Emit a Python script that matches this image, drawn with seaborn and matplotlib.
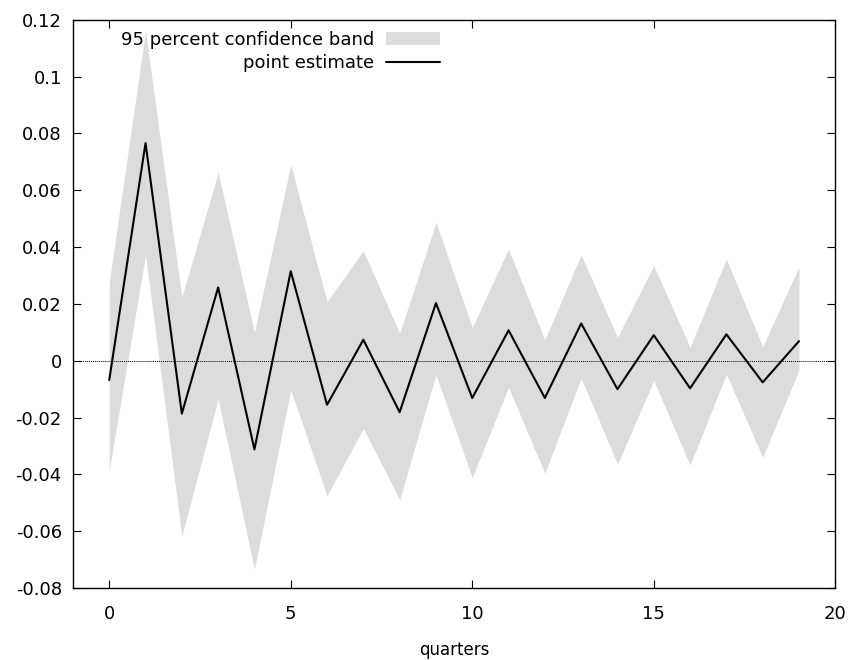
import numpy as np
import pandas as pd
import seaborn as sns
import matplotlib.pyplot as plt
from matplotlib.patches import Patch
from matplotlib.lines import Line2D

# Daten
quarters = list(range(20))
point = [-0.0068, 0.0766, -0.0186, 0.0258, -0.0312, 0.0315, -0.0155, 0.0074,
         -0.0181, 0.0203, -0.0131, 0.0107, -0.0131, 0.0131, -0.0100, 0.0090,
         -0.0097, 0.0093, -0.0076, 0.0069]
upper = [0.0276, 0.116, 0.0223, 0.0663, 0.0100, 0.0690, 0.0208, 0.0387,
         0.0097, 0.0487, 0.0117, 0.0393, 0.0074, 0.0373, 0.0082, 0.0335,
         0.0047, 0.0358, 0.0050, 0.0331]
lower = [-0.0387, 0.0373, -0.0616, -0.0135, -0.0734, -0.0103, -0.0475, -0.0238,
         -0.0489, -0.0049, -0.0411, -0.0094, -0.0396, -0.0061, -0.0364, -0.0070,
         -0.0367, -0.0047, -0.0340, -0.0033]
xticks = [0, 5, 10, 15, 20]
yticks = [-0.08, -0.06, -0.04, -0.02, 0, 0.02, 0.04, 0.06, 0.08, 0.1, 0.12]
ytick_labels = ["-0.08", "-0.06", "-0.04", "-0.02", "0", "0.02", "0.04",
                "0.06", "0.08", "0.1", "0.12"]

df = pd.DataFrame({"quarters": quarters, "point": point,
                   "upper": upper, "lower": lower})

sns.set_style("ticks")
plt.rcParams["font.family"] = ["DejaVu Sans"]
plt.rcParams["text.color"] = "black"
plt.rcParams["axes.labelcolor"] = "black"
plt.rcParams["xtick.color"] = "black"
plt.rcParams["ytick.color"] = "black"

fig = plt.figure(figsize=(8.48, 6.6), dpi=100)
ax = fig.add_axes([0.086, 0.109, 0.899, 0.861])

band_col = "#dcdcdc"
ax.fill_between(df.quarters, df.lower, df.upper, color=band_col, lw=0, zorder=1)
ax.axhline(0, color="black", lw=0.7, ls=(0, (1, 1)), zorder=2)
sns.lineplot(data=df, x="quarters", y="point", color="black", lw=1.5, ax=ax, zorder=3)

ax.set_xlim(-1, 20)
ax.set_ylim(-0.08, 0.12)
ax.set_xticks(xticks)
ax.set_yticks(yticks)
ax.set_yticklabels(ytick_labels)
ax.set_xlabel("quarters", fontsize=12, labelpad=13)
ax.set_ylabel("")

ax.tick_params(direction="in", length=6, width=0.8, top=True, right=True,
               labelsize=13, labelcolor="black", color="black")
ax.tick_params(axis="x", pad=12)
ax.tick_params(axis="y", pad=8)
for s in ax.spines.values():
    s.set_linewidth(1.0)
    s.set_color("black")

handles = [Patch(facecolor=band_col, edgecolor="none"),
           Line2D([], [], color="black", lw=1.5)]
ax.legend(handles, ["95 percent confidence band", "point estimate"],
          loc="upper right", bbox_to_anchor=(0.489, 0.99), frameon=False,
          markerfirst=False, fontsize=13, handlelength=3.0,
          handletextpad=0.65, borderpad=0.3, borderaxespad=0,
          labelspacing=0.3)

fig.savefig("out.png", dpi=100)
